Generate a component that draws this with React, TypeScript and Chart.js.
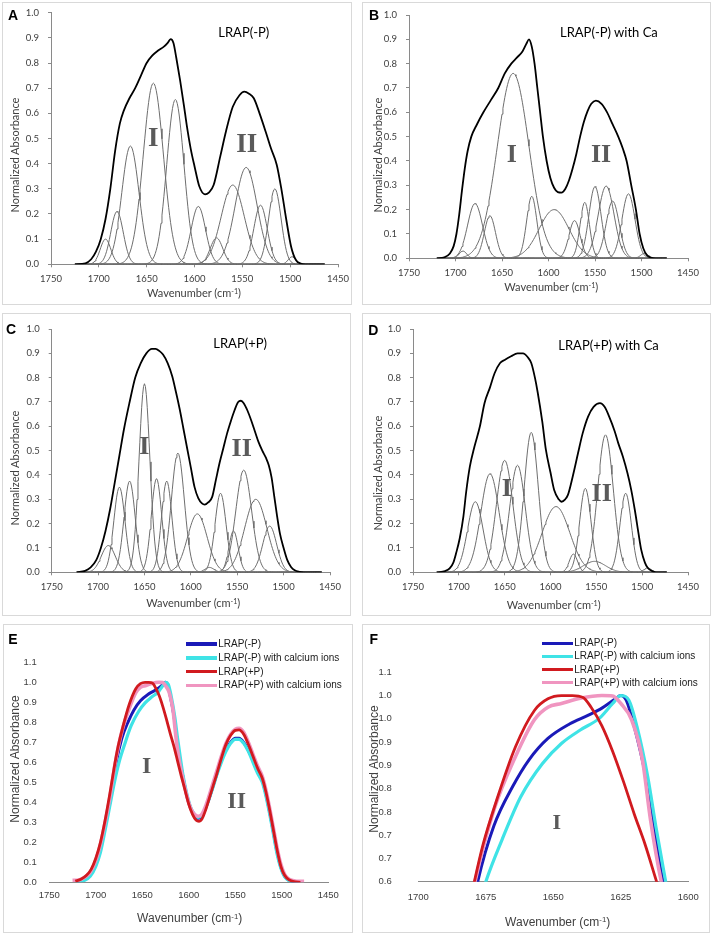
import React, { useEffect, useRef } from "react";
import { Chart, registerables } from "chart.js";
Chart.register(...registerables);

// ---------------- Panel A: LRAP(-P) ----------------
const A_ENV_X = [1725,1714,1708,1703,1698,1693,1688,1683,1678,1674,1668,1662,1656,1650,1644,1638,1632,1628,1625,1622,1619,1615,1611,1608,1604,1600,1595,1589,1585,1580,1573,1567,1560,1553,1548,1543,1538,1532,1525,1520,1514,1509,1504,1499,1494,1489,1484,1464];
const A_ENV_Y = [0,0.004,0.02,0.05,0.1,0.18,0.3,0.45,0.56,0.61,0.66,0.7,0.75,0.8,0.83,0.85,0.865,0.88,0.895,0.88,0.82,0.73,0.63,0.55,0.46,0.39,0.31,0.278,0.285,0.315,0.43,0.53,0.626,0.672,0.686,0.678,0.66,0.6,0.52,0.46,0.395,0.295,0.176,0.07,0.017,0.003,0,0];
const A_CENTERS = [1693,1681,1667,1643,1620,1596,1577,1560,1546,1531,1516,1498];
const A_HEIGHTS = [0.10,0.21,0.47,0.72,0.655,0.23,0.105,0.315,0.385,0.235,0.30,0.03];
const A_WIDTHS = [5.5,6.5,9,10.5,9,7.5,6.5,12,11.5,7,6.5,4];
const A_RANGE = [1725, 1464];

// ---------------- Panel B: LRAP(-P) with Ca ----------------
const B_ENV_X = [1720,1712,1706,1702,1699,1696,1693,1690,1687,1683,1677,1670,1662,1654,1647,1640,1634,1628,1624,1621,1618,1615,1612,1609,1606,1602,1598,1594,1590,1586,1582,1578,1574,1570,1566,1562,1558,1554,1549,1543,1537,1531,1525,1520,1516,1511,1506,1502,1498,1494,1490,1485,1473];
const B_ENV_Y = [0,0.004,0.02,0.05,0.1,0.18,0.28,0.37,0.44,0.5,0.55,0.6,0.65,0.7,0.76,0.8,0.825,0.85,0.88,0.9,0.87,0.8,0.7,0.6,0.5,0.4,0.33,0.29,0.272,0.27,0.285,0.32,0.37,0.43,0.5,0.56,0.605,0.635,0.648,0.635,0.6,0.55,0.5,0.45,0.4,0.3,0.2,0.1,0.04,0.012,0.003,0,0];
const B_CENTERS = [1692,1679,1663,1638,1618,1594,1572,1561,1550,1538,1531,1514,1497];
const B_HEIGHTS = [0.03,0.225,0.175,0.76,0.255,0.2,0.155,0.23,0.295,0.297,0.235,0.265,0.02];
const B_WIDTHS = [4,8,6,17,5.5,16,6,5,6.5,8.5,7,7,4];
const B_RANGE = [1720, 1473];

// ---------------- Panel C: LRAP(+P) ----------------
const C_ENV_X = [1723,1714,1708,1702,1697,1692,1687,1682,1677,1672,1666,1660,1654,1648,1642,1638,1634,1630,1625,1620,1616,1612,1608,1604,1600,1596,1592,1588,1585,1581,1577,1573,1569,1565,1561,1557,1553,1549,1546,1543,1539,1535,1531,1527,1523,1519,1516,1513,1510,1507,1504,1500,1496,1492,1488,1483,1478,1459];
const C_ENV_Y = [0,0.006,0.02,0.05,0.1,0.17,0.26,0.37,0.48,0.59,0.7,0.8,0.86,0.9,0.918,0.918,0.91,0.895,0.86,0.805,0.74,0.67,0.59,0.51,0.43,0.35,0.305,0.283,0.278,0.288,0.31,0.38,0.45,0.51,0.57,0.62,0.665,0.7,0.705,0.695,0.665,0.625,0.58,0.535,0.5,0.47,0.44,0.39,0.31,0.23,0.16,0.1,0.05,0.022,0.008,0.002,0,0];
const C_CENTERS = [1689,1677,1666,1650,1637,1626,1614,1593,1580,1568,1554,1543,1530,1515];
const C_HEIGHTS = [0.11,0.35,0.375,0.775,0.385,0.375,0.49,0.24,0.02,0.325,0.17,0.42,0.3,0.19];
const C_WIDTHS = [7.5,6,6,5.8,5.6,5.6,7,10.5,5,6,5,8.5,12,7.5];
const C_RANGE = [1723, 1459];

// ---------------- Panel D: LRAP(+P) with Ca ----------------
const D_ENV_X = [1724,1715,1710,1706,1703,1699,1695,1692,1688,1683,1677,1672,1666,1661,1655,1650,1643,1636,1630,1625,1621,1617,1614,1609,1605,1600,1596,1591,1588,1584,1581,1576,1570,1565,1559,1553,1546,1541,1536,1530,1526,1521,1516,1512,1508,1504,1501,1497,1494,1489,1485,1473];
const D_ENV_Y = [0,0.005,0.016,0.04,0.078,0.14,0.23,0.33,0.434,0.516,0.6,0.695,0.76,0.818,0.86,0.873,0.888,0.9,0.9,0.885,0.86,0.8,0.74,0.62,0.503,0.41,0.338,0.3,0.29,0.3,0.318,0.39,0.489,0.57,0.64,0.68,0.695,0.68,0.64,0.58,0.53,0.475,0.407,0.34,0.256,0.16,0.092,0.04,0.019,0.005,0,0];
const D_CENTERS = [1682,1666,1650,1636,1621,1594,1575,1562,1552,1540,1518,1494];
const D_HEIGHTS = [0.29,0.405,0.46,0.44,0.575,0.27,0.075,0.345,0.045,0.565,0.325,0.018];
const D_WIDTHS = [8.5,10,9,8.5,7.7,15,4.5,6.2,12,8.5,6.2,4];
const D_RANGE = [1724, 1473];

// ---------------- Panels E / F: normalized spectra ----------------
const SERIES_NAMES = ["LRAP(-P)", "LRAP(-P) with calcium ions", "LRAP(+P)", "LRAP(+P) with calcium ions"];
const SERIES_COLORS = ["#1a1ab8", "#3fe3e6", "#d11a1f", "#f095c0"];

const BLUE_X = [1720,1712,1706,1700,1695,1690,1685,1680,1678,1672,1665,1659,1652,1644,1637,1632,1627,1625,1623,1620,1616,1613,1610,1606,1602,1598,1594,1590,1586,1582,1578,1574,1570,1565,1560,1555,1550,1546,1541,1536,1531,1526,1521,1517,1513,1509,1505,1501,1497,1492,1487,1482];
const BLUE_Y = [0.005,0.015,0.04,0.1,0.17,0.28,0.4,0.54,0.6,0.72,0.805,0.862,0.908,0.939,0.958,0.973,0.993,1.0,0.99,0.933,0.833,0.725,0.62,0.52,0.43,0.37,0.335,0.32,0.33,0.37,0.42,0.48,0.54,0.61,0.665,0.7,0.72,0.72,0.7,0.66,0.61,0.555,0.51,0.44,0.35,0.25,0.15,0.075,0.03,0.01,0.002,0];
const CYAN_X = [1720,1712,1706,1700,1695,1690,1685,1680,1675,1669,1662,1654,1647,1640,1633,1628,1625,1622,1619,1615,1612,1609,1606,1602,1598,1594,1590,1586,1582,1578,1574,1570,1565,1560,1555,1550,1546,1541,1536,1531,1526,1521,1517,1513,1509,1505,1501,1497,1492,1487,1482];
const CYAN_Y = [0.003,0.01,0.03,0.08,0.15,0.26,0.38,0.5,0.6,0.69,0.783,0.854,0.897,0.926,0.951,0.983,1.0,0.99,0.933,0.825,0.718,0.62,0.53,0.44,0.375,0.34,0.325,0.335,0.37,0.42,0.475,0.535,0.6,0.655,0.695,0.715,0.715,0.695,0.655,0.6,0.545,0.5,0.43,0.34,0.24,0.14,0.07,0.028,0.008,0.002,0];
const RED_X = [1722,1716,1710,1705,1700,1695,1690,1685,1680,1676,1671,1664,1657,1652,1647,1643,1639,1636,1632,1628,1624,1620,1616,1612,1608,1604,1600,1596,1592,1589,1586,1582,1578,1574,1570,1565,1560,1555,1550,1546,1541,1536,1531,1526,1521,1517,1513,1509,1505,1501,1497,1492,1487,1480];
const RED_Y = [0.005,0.015,0.035,0.065,0.12,0.2,0.31,0.44,0.58,0.68,0.775,0.89,0.968,0.993,1.0,1.0,0.996,0.975,0.935,0.88,0.815,0.745,0.68,0.605,0.53,0.46,0.39,0.34,0.31,0.305,0.315,0.36,0.42,0.48,0.54,0.62,0.69,0.735,0.76,0.762,0.74,0.69,0.63,0.57,0.52,0.45,0.36,0.26,0.16,0.08,0.035,0.012,0.003,0];
const PINK_X = [1725,1718,1712,1706,1700,1695,1690,1685,1679,1672,1664,1657,1652,1647,1640,1632,1628,1625,1621,1617,1614,1610,1606,1602,1598,1594,1590,1586,1582,1578,1574,1570,1565,1560,1555,1550,1546,1541,1536,1531,1526,1521,1517,1513,1509,1505,1501,1497,1492,1487,1482,1476];
const PINK_Y = [0.01,0.012,0.025,0.05,0.11,0.19,0.3,0.42,0.6,0.754,0.869,0.948,0.975,0.983,0.994,1.0,0.999,0.983,0.948,0.862,0.733,0.6,0.51,0.43,0.37,0.34,0.33,0.34,0.38,0.435,0.495,0.555,0.63,0.695,0.74,0.765,0.77,0.75,0.7,0.64,0.58,0.53,0.46,0.37,0.27,0.17,0.09,0.04,0.015,0.008,0.005,0.005];

// ---------------- Axis ticks ----------------
const X_TICKS_WIDE = [1750, 1700, 1650, 1600, 1550, 1500, 1450];
const X_LABELS_WIDE = ["1750", "1700", "1650", "1600", "1550", "1500", "1450"];
const X_TICKS_ZOOM = [1700, 1675, 1650, 1625, 1600];
const X_LABELS_ZOOM = ["1700", "1675", "1650", "1625", "1600"];
const Y_TICKS_10 = [0, 0.1, 0.2, 0.3, 0.4, 0.5, 0.6, 0.7, 0.8, 0.9, 1.0];
const Y_LABELS_10 = ["0.0", "0.1", "0.2", "0.3", "0.4", "0.5", "0.6", "0.7", "0.8", "0.9", "1.0"];
const Y_TICKS_11 = [0, 0.1, 0.2, 0.3, 0.4, 0.5, 0.6, 0.7, 0.8, 0.9, 1.0, 1.1];
const Y_LABELS_11 = ["0.0", "0.1", "0.2", "0.3", "0.4", "0.5", "0.6", "0.7", "0.8", "0.9", "1.0", "1.1"];
const Y_TICKS_F = [0.6, 0.65, 0.7, 0.75, 0.8, 0.85, 0.9, 0.95, 1.0, 1.05];
const Y_LABELS_F = ["0.6", "0.7", "0.7", "0.8", "0.8", "0.9", "0.9", "1.0", "1.0", "1.1"];

// ---------------- helpers ----------------
const AXIS_COLOR = "#8a8a8a";
const TEXT_COLOR = "#404040";
const EXCEL_FONT = "Lato, 'Liberation Sans', sans-serif";
const ARIAL_FONT = "'Liberation Sans', Arial, sans-serif";

const pairs = (xs: number[], ys: number[]) => xs.map((x, i) => ({ x, y: ys[i] }));

function componentCurve(range: number[], c: number, h: number, s: number) {
  const pts: { x: number; y: number }[] = [];
  for (let w = range[0]; w >= range[1]; w -= 1) {
    pts.push({ x: w, y: h * Math.exp(-((w - c) * (w - c)) / (2 * s * s)) });
  }
  return pts;
}

function fitDatasets(envX: number[], envY: number[], centers: number[], heights: number[], widths: number[], range: number[]) {
  const ds: any[] = [
    { data: pairs(envX, envY), borderColor: "#000000", borderWidth: 1.8, cubicInterpolationMode: "monotone", pointRadius: 0 },
  ];
  centers.forEach((c, i) => {
    ds.push({ data: componentCurve(range, c, heights[i], widths[i]), borderColor: "#6e6e6e", borderWidth: 1, tension: 0, pointRadius: 0 });
  });
  return ds;
}

function spectraDatasets() {
  const make = (xs: number[], ys: number[], color: string, w: number) => ({
    data: pairs(xs, ys), borderColor: color, borderWidth: w, cubicInterpolationMode: "monotone", pointRadius: 0,
  });
  // first dataset is drawn on top
  return [
    make(RED_X, RED_Y, SERIES_COLORS[2], 2.8),
    make(PINK_X, PINK_Y, SERIES_COLORS[3], 3.6),
    make(CYAN_X, CYAN_Y, SERIES_COLORS[1], 3.2),
    make(BLUE_X, BLUE_Y, SERIES_COLORS[0], 3.0),
  ];
}

interface Spec {
  box: number[];
  plot: number[];
  xTicks: number[];
  xLabels: string[];
  yTicks: number[];
  yLabels: string[];
  datasets: any[];
  excel: boolean;
  family: string;
  tickSize: number;
  xPad: number;
  yPad: number;
}

function ChartPanel({ spec }: { spec: Spec }) {
  const ref = useRef<HTMLCanvasElement>(null);
  useEffect(() => {
    const [bx, by, bw, bh] = spec.box;
    const [pl, pt, pr, pb] = spec.plot;
    const font = { family: spec.family, size: spec.tickSize };
    const grid = spec.excel
      ? { display: true, drawOnChartArea: false, drawTicks: true, tickLength: 3, color: AXIS_COLOR, lineWidth: 1 }
      : { display: false, drawTicks: false, tickLength: 0 };
    const zeroPad = (s: any) => {
      s.paddingLeft = 0; s.paddingRight = 0; s.paddingTop = 0; s.paddingBottom = 0;
    };
    const chart = new Chart(ref.current as HTMLCanvasElement, {
      type: "line",
      data: { datasets: spec.datasets },
      options: {
        responsive: false,
        animation: false,
        events: [],
        plugins: { legend: { display: false }, tooltip: { enabled: false } },
        layout: { padding: { left: 0, top: pt - by, right: bx + bw - pr, bottom: 0 } },
        scales: {
          x: {
            type: "linear",
            reverse: true,
            min: Math.min(...spec.xTicks),
            max: Math.max(...spec.xTicks),
            afterBuildTicks: (s: any) => { s.ticks = spec.xTicks.map((v) => ({ value: v })); },
            afterFit: (s: any) => { s.height = by + bh - pb; zeroPad(s); },
            ticks: {
              font, color: TEXT_COLOR, padding: spec.xPad, maxRotation: 0, autoSkip: false,
              callback: (_v: any, i: number) => spec.xLabels[i],
            },
            grid: grid as any,
            border: { display: true, color: AXIS_COLOR, width: 1 },
          },
          y: {
            type: "linear",
            min: Math.min(...spec.yTicks),
            max: Math.max(...spec.yTicks),
            afterBuildTicks: (s: any) => { s.ticks = spec.yTicks.map((v) => ({ value: v })); },
            afterFit: (s: any) => { s.width = pl - bx; zeroPad(s); },
            ticks: {
              font, color: TEXT_COLOR, padding: spec.yPad, autoSkip: false,
              callback: (_v: any, i: number) => spec.yLabels[i],
            },
            grid: grid as any,
            border: { display: spec.excel, color: AXIS_COLOR, width: 1 },
          },
        },
      } as any,
    });
    return () => chart.destroy();
  }, []);
  const [bx, by, bw, bh] = spec.box;
  return (
    <>
      <canvas ref={ref} width={bw} height={bh} style={{ position: "absolute", left: bx, top: by, width: bw, height: bh }} />
      <div style={{ position: "absolute", left: bx, top: by, width: bw, height: bh, border: "1px solid #d9d9d9", boxSizing: "border-box", pointerEvents: "none" }} />
    </>
  );
}

function Txt(props: { x: number; y: number; size: number; family: string; weight?: any; color?: string; left?: boolean; rotate?: boolean; children: any }) {
  const { x, y, size, family, weight, color, left, rotate, children } = props;
  const transform = rotate ? "translate(-50%,-50%) rotate(-90deg)" : left ? "translate(0,-50%)" : "translate(-50%,-50%)";
  return (
    <div style={{ position: "absolute", left: x, top: y, transform, fontSize: size, fontFamily: family, fontWeight: weight || "normal", color: color || TEXT_COLOR, lineHeight: 1, whiteSpace: "nowrap" }}>
      {children}
    </div>
  );
}

const Wn = () => (
  <span>
    Wavenumber (cm<span style={{ fontSize: "0.65em", position: "relative", top: "-0.45em" }}>-1</span>)
  </span>
);

function Legend({ x, y0, step }: { x: number; y0: number; step: number }) {
  return (
    <>
      {SERIES_NAMES.map((name, i) => (
        <React.Fragment key={name}>
          <div style={{ position: "absolute", left: x, top: y0 + i * step - 1.75, width: 31, height: 3.5, background: SERIES_COLORS[i] }} />
          <Txt x={x + 32.5} y={y0 + i * step} size={10} family={ARIAL_FONT} color="#1a1a1a" left>
            {name}
          </Txt>
        </React.Fragment>
      ))}
    </>
  );
}

export default function App() {
  const base = { excel: true, family: EXCEL_FONT, tickSize: 9.5, xPad: 6, yPad: 9 };
  const specA: Spec = { ...base, box: [2, 2, 350, 303], plot: [51, 12.7, 338, 264.3], xTicks: X_TICKS_WIDE, xLabels: X_LABELS_WIDE, yTicks: Y_TICKS_10, yLabels: Y_LABELS_10, datasets: fitDatasets(A_ENV_X, A_ENV_Y, A_CENTERS, A_HEIGHTS, A_WIDTHS, A_RANGE) };
  const specB: Spec = { ...base, box: [362, 2, 349, 303], plot: [409, 15, 688, 258.3], xTicks: X_TICKS_WIDE, xLabels: X_LABELS_WIDE, yTicks: Y_TICKS_10, yLabels: Y_LABELS_10, datasets: fitDatasets(B_ENV_X, B_ENV_Y, B_CENTERS, B_HEIGHTS, B_WIDTHS, B_RANGE) };
  const specC: Spec = { ...base, box: [2, 313, 349, 303], plot: [51.7, 329, 330, 572.3], xTicks: X_TICKS_WIDE, xLabels: X_LABELS_WIDE, yTicks: Y_TICKS_10, yLabels: Y_LABELS_10, datasets: fitDatasets(C_ENV_X, C_ENV_Y, C_CENTERS, C_HEIGHTS, C_WIDTHS, C_RANGE) };
  const specD: Spec = { ...base, box: [362, 313, 349, 303], plot: [413, 329, 688, 572.3], xTicks: X_TICKS_WIDE, xLabels: X_LABELS_WIDE, yTicks: Y_TICKS_10, yLabels: Y_LABELS_10, datasets: fitDatasets(D_ENV_X, D_ENV_Y, D_CENTERS, D_HEIGHTS, D_WIDTHS, D_RANGE) };
  const specE: Spec = { excel: false, family: ARIAL_FONT, tickSize: 9.5, xPad: 7.5, yPad: 12.6, box: [3, 624, 350, 309], plot: [49.3, 662.3, 328.3, 882.3], xTicks: X_TICKS_WIDE, xLabels: X_LABELS_WIDE, yTicks: Y_TICKS_11, yLabels: Y_LABELS_11, datasets: spectraDatasets() };
  const specF: Spec = { excel: false, family: ARIAL_FONT, tickSize: 9.5, xPad: 10, yPad: 26.6, box: [362, 624, 348, 309], plot: [418.3, 672.3, 688.3, 881.7], xTicks: X_TICKS_ZOOM, xLabels: X_LABELS_ZOOM, yTicks: Y_TICKS_F, yLabels: Y_LABELS_F, datasets: spectraDatasets() };

  const roman = "'Liberation Serif', 'Times New Roman', serif";
  const letter = ARIAL_FONT;
  const rc = "#5a5a5a";
  return (
    <div style={{ position: "absolute", left: 0, top: 0, width: 715, height: 939, background: "#ffffff", overflow: "hidden" }}>
      <ChartPanel spec={specA} />
      <ChartPanel spec={specB} />
      <ChartPanel spec={specC} />
      <ChartPanel spec={specD} />
      <ChartPanel spec={specE} />
      <ChartPanel spec={specF} />

      {/* panel letters */}
      <Txt x={13} y={15} size={14} family={letter} weight="bold" color="#000">A</Txt>
      <Txt x={374} y={15.3} size={14} family={letter} weight="bold" color="#000">B</Txt>
      <Txt x={11} y={329.2} size={14} family={letter} weight="bold" color="#000">C</Txt>
      <Txt x={373.3} y={330.2} size={14} family={letter} weight="bold" color="#000">D</Txt>
      <Txt x={12.8} y={639.2} size={14} family={letter} weight="bold" color="#000">E</Txt>
      <Txt x={373.7} y={639.2} size={14} family={letter} weight="bold" color="#000">F</Txt>

      {/* panel titles */}
      <Txt x={218.3} y={32} size={13} family={EXCEL_FONT} color="#000" left>LRAP(-P)</Txt>
      <Txt x={560} y={31.7} size={13} family={EXCEL_FONT} color="#000" left>LRAP(-P) with Ca</Txt>
      <Txt x={213.3} y={343.3} size={13} family={EXCEL_FONT} color="#000" left>LRAP(+P)</Txt>
      <Txt x={558.3} y={345} size={13} family={EXCEL_FONT} color="#000" left>LRAP(+P) with Ca</Txt>

      {/* axis titles */}
      <Txt x={14} y={155} size={11} family={EXCEL_FONT} rotate>Normalized Absorbance</Txt>
      <Txt x={376.7} y={155} size={11} family={EXCEL_FONT} rotate>Normalized Absorbance</Txt>
      <Txt x={14} y={467.5} size={11} family={EXCEL_FONT} rotate>Normalized Absorbance</Txt>
      <Txt x={376.7} y={472.5} size={11} family={EXCEL_FONT} rotate>Normalized Absorbance</Txt>
      <Txt x={14.5} y={759} size={12} family={ARIAL_FONT} rotate>Normalized Absorbance</Txt>
      <Txt x={374.3} y={769} size={12} family={ARIAL_FONT} rotate>Normalized Absorbance</Txt>

      <Txt x={194} y={293} size={11} family={EXCEL_FONT}><Wn /></Txt>
      <Txt x={551.3} y={287.3} size={11} family={EXCEL_FONT}><Wn /></Txt>
      <Txt x={193.3} y={603.3} size={11} family={EXCEL_FONT}><Wn /></Txt>
      <Txt x={553.7} y={605} size={11} family={EXCEL_FONT}><Wn /></Txt>
      <Txt x={189.7} y={918.3} size={12} family={ARIAL_FONT}><Wn /></Txt>
      <Txt x={557.7} y={921.7} size={12} family={ARIAL_FONT}><Wn /></Txt>

      {/* band labels */}
      <Txt x={153.3} y={137.3} size={27} family={roman} weight="bold" color={rc}>I</Txt>
      <Txt x={246.7} y={142.7} size={27} family={roman} weight="bold" color={rc}>II</Txt>
      <Txt x={511.7} y={154} size={26} family={roman} weight="bold" color={rc}>I</Txt>
      <Txt x={601} y={154} size={26} family={roman} weight="bold" color={rc}>II</Txt>
      <Txt x={144.3} y={445.7} size={26} family={roman} weight="bold" color={rc}>I</Txt>
      <Txt x={241.7} y={447.7} size={26} family={roman} weight="bold" color={rc}>II</Txt>
      <Txt x={506.7} y={488.3} size={26} family={roman} weight="bold" color={rc}>I</Txt>
      <Txt x={601.7} y={492.7} size={26} family={roman} weight="bold" color={rc}>II</Txt>
      <Txt x={146.7} y={765} size={24} family={roman} weight="bold" color={rc}>I</Txt>
      <Txt x={236.7} y={800} size={24} family={roman} weight="bold" color={rc}>II</Txt>
      <Txt x={556.7} y={821.7} size={22} family={roman} weight="bold" color={rc}>I</Txt>

      {/* legends */}
      <Legend x={185.7} y0={644} step={13.8} />
      <Legend x={541.7} y0={643.3} step={13.13} />
    </div>
  );
}
